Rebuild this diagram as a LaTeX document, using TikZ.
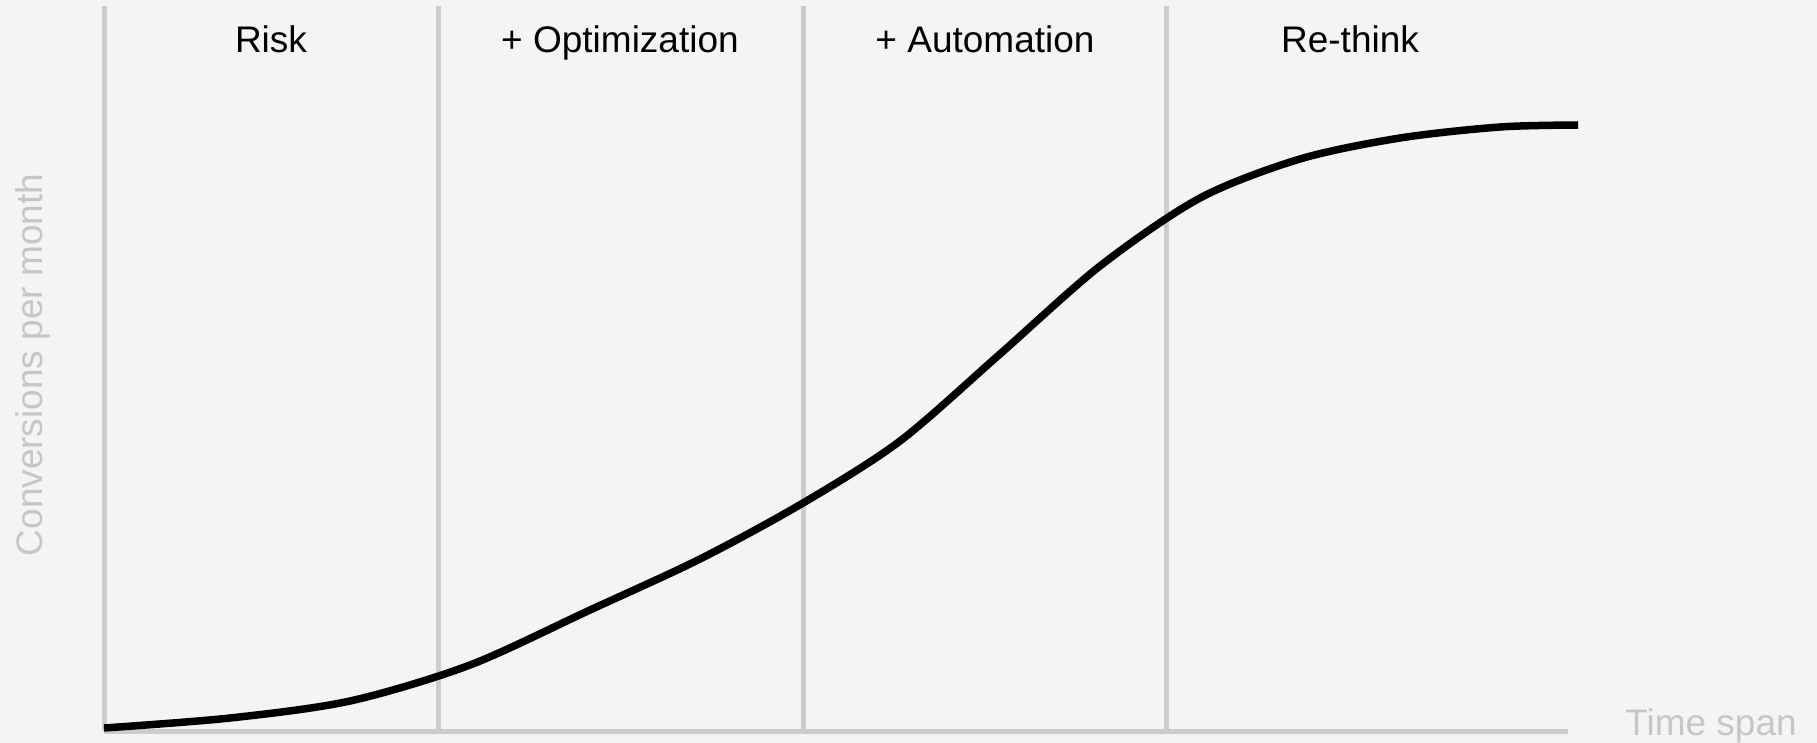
\documentclass[tikz,border=0pt]{standalone}
\usepackage{fontspec}
\setmainfont{Liberation Sans}
\usetikzlibrary{positioning}
\definecolor{bgcol}{HTML}{F4F4F4}
\definecolor{gridcol}{HTML}{CCCCCC}
\definecolor{axcol}{HTML}{C6C6C6}

\begin{document}
\begin{tikzpicture}[x=1pt, y=-1pt, thick,
    phase/.style = {font=\fontsize{37}{40}\selectfont, text=black, anchor=base},
    divider/.style = {draw=gridcol, line width=5pt},
    axlbl/.style = {font=\fontsize{37}{40}\selectfont, text=axcol, anchor=base},
    growth/.style = {draw=black, line width=7.5pt}]

    \useasboundingbox (0,0) rectangle (1817,743);
    \fill[bgcol] (0,0) rectangle (1817,743);

    \foreach \x/\n in {104/1, 438/2, 803/3, 1166/4} {
        \coordinate (top\n) at (\x,6);
        \coordinate (bot\n) at (\x,731);
        \draw[divider] (top\n) -- (bot\n);
    }
    \coordinate (axend) at (1568,731);
    \draw[divider] (bot1) -- (axend);

    \node[phase] (risk) at (271,53) {Risk};
    \node[phase] (optim) at (620,53) {+ Optimization};
    \node[phase] (autom) at (985,53) {+ Automation};
    \node[phase] (rethink) at (1350,53) {Re-think};

    \node[axlbl] (xlabel) at (1711,735) {Time span};
    \node[axlbl, rotate=90] (ylabel) at (42,365) {Conversions per month};

    \draw[growth] plot[smooth, tension=0.5] coordinates {
        (104,728) (230,718) (350,701) (470,665) (590,610) (700,559)
        (803,503) (900,441) (1000,354) (1100,266) (1200,198)
        (1300,159) (1400,138) (1500,127) (1578,125)};

\end{tikzpicture}
\end{document}
